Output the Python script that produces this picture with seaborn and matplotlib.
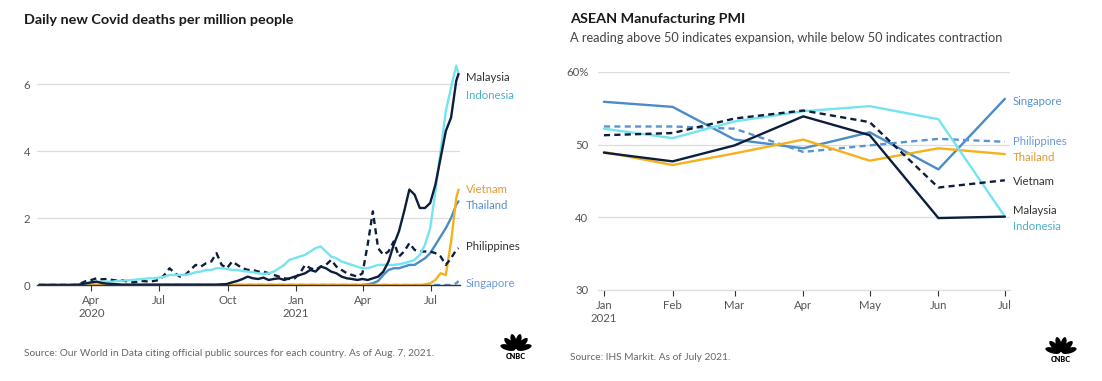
import numpy as np
import pandas as pd
import matplotlib
matplotlib.use("Agg")
import matplotlib.pyplot as plt
from matplotlib.patches import Ellipse
import seaborn as sns

# ---------------- data: left chart (daily deaths per million, weekly readings) -------------
week_start = "2020-01-22"
n_weeks = 81
last_date = "2021-08-07"

malaysia_d = [0, 0, 0, 0, 0, 0, 0, 0, 0.02, 0.05, 0.08, 0.1, 0.06, 0.04, 0.03, 0.02,
              0.01, 0.01, 0.01, 0.01, 0.01, 0.01, 0.01, 0.01, 0.01, 0.01, 0.01, 0.01, 0.01, 0.01,
              0.01, 0.01, 0.01, 0.01, 0.01, 0.02, 0.03, 0.08, 0.12, 0.18, 0.25, 0.2, 0.18, 0.22,
              0.15, 0.18, 0.2, 0.15, 0.2, 0.25, 0.3, 0.35, 0.45, 0.4, 0.55, 0.5, 0.4, 0.35, 0.25,
              0.2, 0.18, 0.15, 0.18, 0.15, 0.2, 0.25, 0.4, 0.7, 1.2, 1.6, 2.2, 2.85, 2.7, 2.3, 2.3,
              2.45, 3.0, 3.8, 4.6, 5.0, 6.1, 6.3]
indonesia_d = [0, 0, 0, 0, 0, 0, 0, 0, 0.01, 0.04, 0.07, 0.09, 0.1, 0.1, 0.1, 0.12, 0.13,
               0.14, 0.15, 0.17, 0.18, 0.2, 0.2, 0.22, 0.25, 0.3, 0.3, 0.3, 0.3, 0.33, 0.38, 0.4,
               0.45, 0.45, 0.5, 0.5, 0.48, 0.45, 0.45, 0.42, 0.4, 0.38, 0.35, 0.33, 0.35, 0.4, 0.5,
               0.6, 0.75, 0.8, 0.85, 0.9, 1.0, 1.1, 1.15, 1.0, 0.85, 0.8, 0.7, 0.65, 0.6, 0.55,
               0.5, 0.5, 0.55, 0.6, 0.6, 0.6, 0.6, 0.62, 0.65, 0.7, 0.75, 0.9, 1.2, 1.7, 2.8, 4.0,
               5.2, 5.9, 6.55, 6.3]
philippines_d = [0, 0, 0, 0, 0, 0, 0, 0.01, 0.05, 0.12, 0.15, 0.2, 0.17, 0.18, 0.15, 0.13,
                 0.14, 0.1, 0.08, 0.1, 0.12, 0.1, 0.12, 0.15, 0.3, 0.5, 0.35, 0.25, 0.3, 0.45, 0.6,
                 0.55, 0.65, 0.7, 0.95, 0.6, 0.5, 0.7, 0.6, 0.5, 0.45, 0.45, 0.4, 0.4, 0.35, 0.3,
                 0.25, 0.2, 0.18, 0.2, 0.35, 0.6, 0.5, 0.45, 0.55, 0.6, 0.75, 0.55, 0.45, 0.35, 0.3,
                 0.25, 0.35, 1.2, 2.2, 1.1, 0.9, 1.0, 1.3, 0.85, 1.0, 1.25, 1.05, 1.0, 1.0, 1.0,
                 0.95, 0.85, 0.6, 0.8, 1.05, 1.1]
thailand_d = [0] * 63 + [0.02, 0.05, 0.12, 0.3, 0.45, 0.5, 0.5, 0.55, 0.6, 0.6, 0.7, 0.8,
                         0.95, 1.2, 1.45, 1.7, 2.0, 2.4, 2.5]
vietnam_d = [0] * 74 + [0.02, 0.05, 0.15, 0.35, 0.3, 1.3, 2.6, 2.85]
singapore_d = [0] * 80 + [0.05, 0.12]

left_ticks = ["2020-04-01", "2020-07-01", "2020-10-01", "2021-01-01", "2021-04-01", "2021-07-01"]
left_ticklabels = ["Apr\n2020", "Jul", "Oct", "Jan\n2021", "Apr", "Jul"]

# ---------------- data: right chart (PMI) ----------------
months = ["2021-01-01", "2021-02-01", "2021-03-01", "2021-04-01", "2021-05-01", "2021-06-01", "2021-07-01"]
month_labels = ["Jan\n2021", "Feb", "Mar", "Apr", "May", "Jun", "Jul"]
singapore_p = [55.9, 55.2, 50.7, 49.5, 51.7, 46.6, 56.3]
philippines_p = [52.5, 52.5, 52.2, 49.0, 49.9, 50.8, 50.4]
thailand_p = [49.0, 47.2, 48.8, 50.7, 47.8, 49.5, 48.7]
vietnam_p = [51.3, 51.6, 53.6, 54.7, 53.1, 44.1, 45.1]
malaysia_p = [48.9, 47.7, 49.9, 53.9, 51.3, 39.9, 40.1]
indonesia_p = [52.2, 50.9, 53.2, 54.6, 55.3, 53.5, 40.1]

# ---------------- styling ----------------
NAVY = "#0c1e3c"
CYAN = "#74e4f0"
BLUE = "#4a8cc8"
LBLUE = "#5b93d0"
ORANGE = "#f4b11c"
GRID = "#dcdcdc"
TXT = "#555555"
DASH = (0, (2.6, 1.8))
FS = 8.2

sns.set_theme(style="white")
plt.rcParams["font.family"] = ["Lato", "DejaVu Sans"]

W, H = 1102, 381
fig = plt.figure(figsize=(W / 100, H / 100), dpi=100)


def box(l, t, r, b):
    return [l / W, 1 - b / H, (r - l) / W, (b - t) / H]


dates = list(pd.date_range(week_start, periods=n_weeks, freq="7D")) + [pd.Timestamp(last_date)]
df_left = pd.DataFrame({"date": dates, "Malaysia": malaysia_d, "Indonesia": indonesia_d,
                        "Philippines": philippines_d, "Thailand": thailand_d,
                        "Vietnam": vietnam_d, "Singapore": singapore_d})

# ---------------- left chart ----------------
ax1 = fig.add_axes(box(37, 64, 460, 285))
left_styles = [("Singapore", LBLUE, DASH), ("Thailand", BLUE, "-"), ("Vietnam", ORANGE, "-"),
               ("Philippines", NAVY, DASH), ("Indonesia", CYAN, "-"), ("Malaysia", NAVY, "-")]
for name, col, ls in left_styles:
    sns.lineplot(data=df_left, x="date", y=name, ax=ax1, color=col, linestyle=ls,
                 linewidth=1.7, legend=False)
ax1.set_xlim(pd.Timestamp("2020-01-19"), pd.Timestamp("2021-08-09"))
ax1.set_ylim(0, 6.6)
ax1.set_yticks([0, 2, 4, 6])
ax1.set_yticklabels(["0", "2", "4", "6"])
ax1.set_xticks([pd.Timestamp(t) for t in left_ticks])
ax1.set_xticklabels(left_ticklabels)
ax1.grid(axis="y", color=GRID, linewidth=0.9)
ax1.set_axisbelow(True)
for s in ["top", "right", "left"]:
    ax1.spines[s].set_visible(False)
ax1.spines["bottom"].set_color("#333333")
ax1.spines["bottom"].set_linewidth(1.0)
ax1.tick_params(axis="x", direction="out", length=4, width=0.8, color="#333333",
                labelsize=FS, labelcolor=TXT, pad=3, bottom=True)
ax1.tick_params(axis="y", length=0, labelsize=FS, labelcolor=TXT, pad=5)
ax1.set_xlabel("")
ax1.set_ylabel("")

left_labels = [("Malaysia", 6.2, "#333333"), ("Indonesia", 5.67, "#4fb0c6"),
               ("Vietnam", 2.84, "#de9a38"), ("Thailand", 2.36, "#5b8fcc"),
               ("Philippines", 1.16, "#333333"), ("Singapore", 0.03, "#6b9bd6")]
trans1 = ax1.get_yaxis_transform()
for name, yv, col in left_labels:
    ax1.text(1.014, yv, name, transform=trans1, color=col, fontsize=FS,
             va="center", ha="left", clip_on=False)

# ---------------- right chart ----------------
df_right = pd.DataFrame({"month": pd.to_datetime(months), "Singapore": singapore_p,
                         "Philippines": philippines_p, "Thailand": thailand_p,
                         "Vietnam": vietnam_p, "Malaysia": malaysia_p, "Indonesia": indonesia_p})
ax2 = fig.add_axes(box(598, 72, 1010, 290))
right_styles = [("Singapore", BLUE, "-"), ("Philippines", LBLUE, DASH), ("Thailand", ORANGE, "-"),
                ("Indonesia", CYAN, "-"), ("Vietnam", NAVY, DASH), ("Malaysia", NAVY, "-")]
for name, col, ls in right_styles:
    sns.lineplot(data=df_right, x="month", y=name, ax=ax2, color=col, linestyle=ls,
                 linewidth=1.7, legend=False)
ax2.set_xlim(pd.Timestamp("2020-12-29 08:00"), pd.Timestamp("2021-07-03 08:00"))
ax2.set_ylim(30, 60)
ax2.set_yticks([30, 40, 50, 60])
ax2.set_yticklabels(["30", "40", "50", "60%"])
ax2.set_xticks(pd.to_datetime(months))
ax2.set_xticklabels(month_labels)
ax2.grid(axis="y", color=GRID, linewidth=0.9)
ax2.set_axisbelow(True)
for s in ["top", "right", "left"]:
    ax2.spines[s].set_visible(False)
ax2.spines["bottom"].set_color(GRID)
ax2.spines["bottom"].set_linewidth(0.9)
ax2.tick_params(axis="x", direction="out", length=4, width=0.8, color="#333333",
                labelsize=FS, labelcolor=TXT, pad=3, bottom=True)
ax2.tick_params(axis="y", length=0, labelsize=FS, labelcolor=TXT, pad=7)
ax2.set_xlabel("")
ax2.set_ylabel("")

right_labels = [("Singapore", 56.0, "#5b93d0"), ("Philippines", 50.5, "#6b9bd6"),
                ("Thailand", 48.2, "#de9a38"), ("Vietnam", 44.9, "#333333"),
                ("Malaysia", 41.0, "#333333"), ("Indonesia", 38.7, "#4fb0c6")]
trans2 = ax2.get_yaxis_transform()
for name, yv, col in right_labels:
    ax2.text(1.007, yv, name, transform=trans2, color=col, fontsize=FS,
             va="center", ha="left", clip_on=False)

# ---------------- titles and sources ----------------
fig.text(24 / W, 1 - 20 / H, "Daily new Covid deaths per million people", fontsize=10.4,
         fontweight="bold", color="#1a1a1a", va="center", ha="left")
fig.text(570 / W, 1 - 19 / H, "ASEAN Manufacturing PMI", fontsize=10.4,
         fontweight="bold", color="#1a1a1a", va="center", ha="left")
fig.text(570 / W, 1 - 38 / H,
         "A reading above 50 indicates expansion, while below 50 indicates contraction",
         fontsize=9.2, color="#444444", va="center", ha="left")
fig.text(24 / W, 1 - 353 / H,
         "Source: Our World in Data citing official public sources for each country. As of Aug. 7, 2021.",
         fontsize=7.3, color="#666666", va="center", ha="left")
fig.text(570 / W, 1 - 357 / H, "Source: IHS Markit. As of July 2021.",
         fontsize=7.3, color="#666666", va="center", ha="left")


# ---------------- CNBC peacock marks ----------------
def peacock(cx, cy):
    lax = fig.add_axes(box(cx - 17, cy - 17, cx + 17, cy + 17))
    lax.set_xlim(-1, 1)
    lax.set_ylim(-1, 1)
    lax.set_aspect("equal")
    lax.axis("off")
    for ang in np.linspace(165, 15, 6):
        r = np.deg2rad(ang)
        lax.add_patch(Ellipse((0.5 * np.cos(r), -0.22 + 0.5 * np.sin(r)), 0.34, 0.9,
                              angle=ang - 90, color="black", lw=0))
    lax.text(0, -0.62, "CNBC", ha="center", va="center", fontsize=5.2,
             fontweight="heavy", color="black")


peacock(516, 346)
peacock(1061, 349)

fig.savefig("out.png", dpi=100, facecolor="white")
